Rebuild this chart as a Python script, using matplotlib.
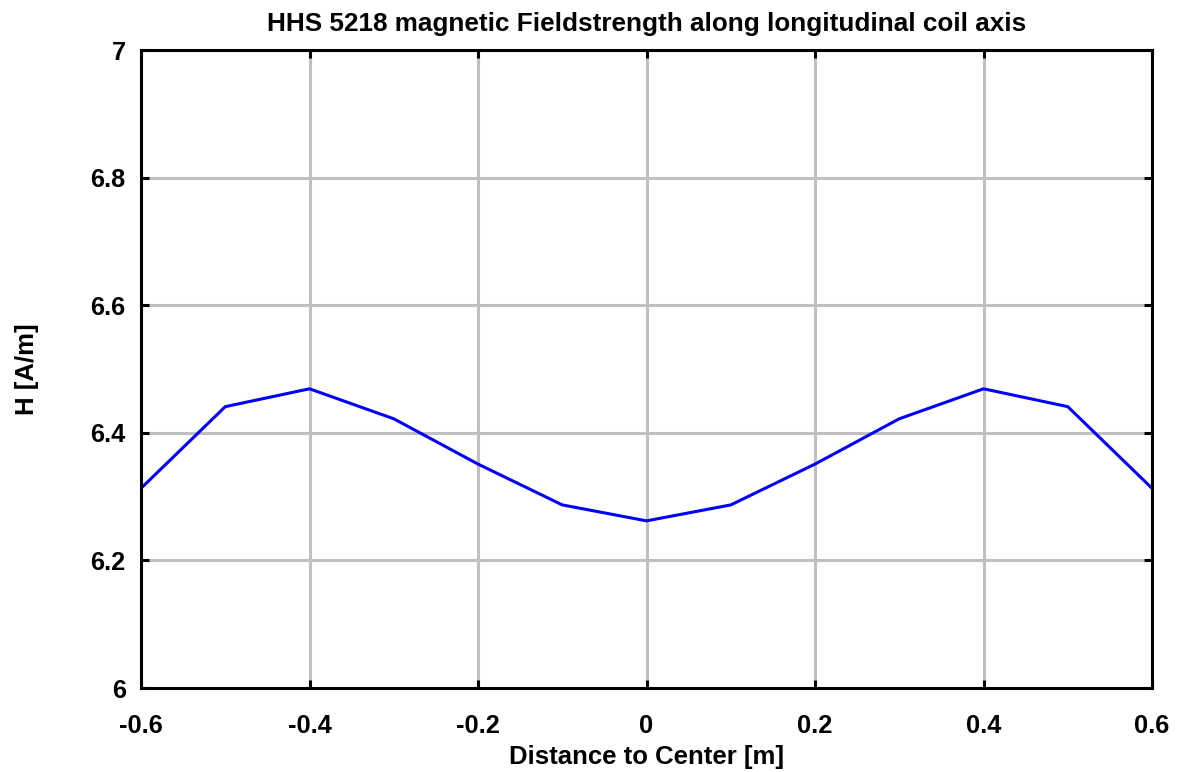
import numpy as np
import matplotlib
matplotlib.use('Agg')
import matplotlib.pyplot as plt

plt.rcParams['font.family'] = ['Liberation Sans', 'DejaVu Sans']
plt.rcParams['font.weight'] = 'bold'

distance = [-0.6, -0.5, -0.4, -0.3, -0.2, -0.1, 0.0, 0.1, 0.2, 0.3, 0.4, 0.5, 0.6]
field = [6.313, 6.441, 6.469, 6.422, 6.351, 6.287, 6.262,
         6.287, 6.351, 6.422, 6.469, 6.441, 6.313]

xticks = [-0.6, -0.4, -0.2, 0, 0.2, 0.4, 0.6]
xticklabels = ['-0.6', '-0.4', '-0.2', '0', '0.2', '0.4', '0.6']
yticks = [6, 6.2, 6.4, 6.6, 6.8, 7]
yticklabels = ['6', '6.2', '6.4', '6.6', '6.8', '7']

fig = plt.figure(figsize=(11.8, 7.72), dpi=100)
ax = fig.add_axes([0.1195, 0.1088, 0.8568, 0.8264])

ax.plot(distance, field, color='#0000ff', linewidth=2.2, zorder=3)

ax.set_xlim(-0.6, 0.6)
ax.set_ylim(6, 7)
ax.set_xticks(xticks)
ax.set_xticklabels(xticklabels)
ax.set_yticks(yticks)
ax.set_yticklabels(yticklabels)
ax.grid(True, color='#c0c0c0', linewidth=2.2)
ax.set_axisbelow(True)
ax.tick_params(direction='in', length=6, width=2.2, labelsize=18.3,
               top=True, right=True)
ax.tick_params(axis='x', pad=19)
ax.tick_params(axis='y', pad=11)
for s in ax.spines.values():
    s.set_linewidth(2.2)
    s.set_zorder(4)

ax.set_title('HHS 5218 magnetic Fieldstrength along longitudinal coil axis',
             fontsize=18.8, fontweight='bold', pad=14)
ax.set_xlabel('Distance to Center [m]', fontsize=18.5, fontweight='bold', labelpad=5)
ax.set_ylabel('H [A/m]', fontsize=18.5, fontweight='bold', labelpad=37)

fig.savefig('out.png', dpi=100)
